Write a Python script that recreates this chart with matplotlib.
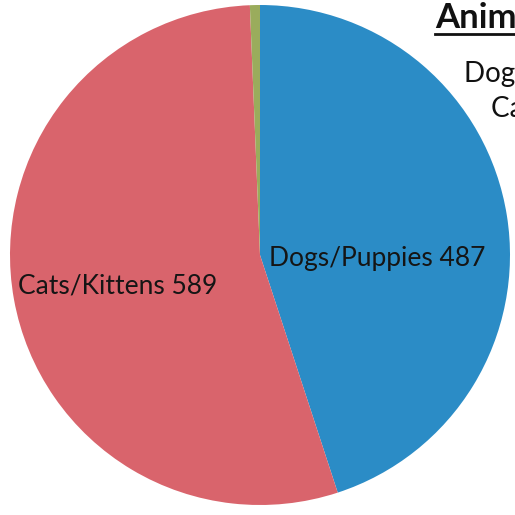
import matplotlib
matplotlib.use("Agg")
import matplotlib.pyplot as plt
from matplotlib.lines import Line2D

categories = ["Dogs/Puppies", "Cats/Kittens", "Other"]
values = [487, 589, 7]
colors = ["#2b8cc6", "#d9646c", "#9aac5c"]
title = "Animals Served"

plt.rcParams['font.family'] = ['Lato', 'DejaVu Sans']

fig = plt.figure(figsize=(5.15, 5.15), dpi=100)
ax = fig.add_axes([0, 0, 1, 1])
ax.pie(values, colors=colors, startangle=90, counterclock=False, radius=1.0,
       wedgeprops=dict(linewidth=0))
ax.set_xlim(-1.04, 1.02)
ax.set_ylim(-1.04, 1.02)
ax.set_aspect('auto')
ax.axis('off')

ax.text(0.47, -0.015, f"{categories[0]} {values[0]}", fontsize=19, color="#151515",
        ha="center", va="center")
ax.text(-0.57, -0.125, f"{categories[1]} {values[1]}", fontsize=19, color="#151515",
        ha="center", va="center")

# partial legend text at the right edge (cut off, as in the reference)
fig.text(435/515, 1 - 28/515, title, fontsize=25, fontweight="bold", color="#111111",
         ha="left", va="baseline")
fig.add_artist(Line2D([435/515, 1.0], [1 - 34/515, 1 - 34/515], color="#111111", lw=2))
fig.text(464/515, 1 - 82/515, f"{categories[0]} {values[0]}", fontsize=20, color="#111111",
         ha="left", va="baseline")
fig.text(491/515, 1 - 117/515, f"{categories[1]} {values[1]}", fontsize=20, color="#111111",
         ha="left", va="baseline")

fig.savefig("out.png", dpi=100)
